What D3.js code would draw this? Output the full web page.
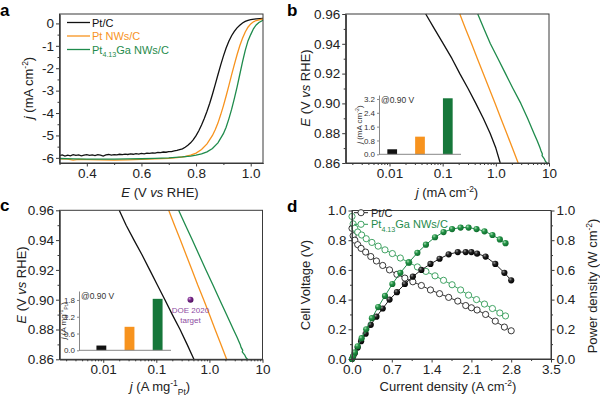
<!DOCTYPE html>
<html>
<head>
<meta charset="utf-8">
<script src="https://cdn.jsdelivr.net/npm/d3@7"></script>
<style>
body{margin:0;background:#fff}
svg{display:block;font-family:Arial,"Liberation Sans",sans-serif}
</style>
</head>
<body>
<svg id="fig" width="600" height="396"></svg>
<script>
// ---------- data ----------
// panel a: LSV curves [E (V vs RHE), j (mA cm-2)]
var lsvPtC = [[0.30,-5.90],[0.31,-5.87],[0.32,-5.92],[0.33,-5.88],[0.34,-5.91],[0.35,-5.86],[0.36,-5.89],[0.37,-5.87],
  [0.38,-5.91],[0.39,-5.88],[0.40,-5.86],[0.41,-5.89],[0.42,-5.87],[0.43,-5.90],[0.44,-5.86],[0.45,-5.88],[0.46,-5.92],
  [0.47,-5.87],[0.48,-5.85],[0.49,-5.88],[0.50,-5.86],[0.51,-5.87],[0.52,-5.84],[0.53,-5.86],[0.54,-5.83],[0.55,-5.85],
  [0.56,-5.82],[0.57,-5.84],[0.58,-5.81],[0.59,-5.83],[0.60,-5.80],[0.61,-5.82],[0.62,-5.79],[0.63,-5.80],[0.64,-5.78],
  [0.65,-5.79],[0.66,-5.76],[0.67,-5.77],[0.68,-5.74],[0.69,-5.75],[0.70,-5.72],[0.71,-5.72],[0.72,-5.69],[0.73,-5.67],
  [0.74,-5.63],[0.75,-5.60],[0.76,-5.53],[0.77,-5.44],[0.78,-5.33],[0.79,-5.19],[0.80,-5.01],[0.81,-4.79],[0.82,-4.53],
  [0.83,-4.24],[0.84,-3.92],[0.85,-3.56],[0.86,-3.16],[0.87,-2.73],[0.88,-2.29],[0.89,-1.86],[0.90,-1.46],[0.91,-1.10],
  [0.92,-0.80],[0.93,-0.55],[0.94,-0.36],[0.95,-0.20],[0.96,-0.08],[0.97,0.02],[0.98,0.09],[0.99,0.14],[1.00,0.17],
  [1.02,0.20],[1.045,0.22]];
var lsvPtNW = [[0.30,-6.04],[0.33,-6.06],[0.35,-6.10],[0.37,-6.07],[0.40,-6.08],[0.45,-6.09],[0.50,-6.10],[0.55,-6.09],
  [0.60,-6.07],[0.65,-6.05],[0.70,-6.02],[0.73,-5.99],[0.76,-5.94],[0.78,-5.88],[0.80,-5.79],[0.82,-5.63],[0.84,-5.38],
  [0.86,-5.00],[0.87,-4.75],[0.88,-4.45],[0.89,-4.08],[0.90,-3.68],[0.91,-3.24],[0.92,-2.78],[0.93,-2.30],[0.94,-1.84],
  [0.95,-1.40],[0.96,-1.00],[0.97,-0.66],[0.98,-0.38],[0.99,-0.17],[1.00,-0.02],[1.01,0.07],[1.02,0.13],[1.045,0.20]];
var lsvPtGa = [[0.30,-6.03],[0.35,-6.05],[0.40,-6.06],[0.45,-6.06],[0.50,-6.06],[0.55,-6.05],[0.60,-6.04],[0.65,-6.02],
  [0.70,-6.00],[0.75,-5.96],[0.78,-5.92],[0.80,-5.88],[0.82,-5.82],[0.84,-5.73],[0.86,-5.58],[0.88,-5.33],[0.90,-4.92],
  [0.91,-4.63],[0.92,-4.26],[0.93,-3.84],[0.94,-3.36],[0.95,-2.84],[0.96,-2.28],[0.97,-1.72],[0.98,-1.20],[0.99,-0.78],
  [1.00,-0.50],[1.01,-0.24],[1.02,-0.07],[1.03,0.04],[1.045,0.14]];

// panel b: specific activity curves [j (mA cm-2), E]
var saPtC = [[0.048,0.96],[0.07,0.95],[0.103,0.94],[0.15,0.93],[0.21,0.92],[0.30,0.91],[0.42,0.90],[0.58,0.89],[0.78,0.88],[1.0,0.87],[1.21,0.86]];
var saPtNW = [[0.21,0.96],[0.27,0.95],[0.35,0.94],[0.45,0.93],[0.58,0.92],[0.75,0.91],[0.97,0.90],[1.24,0.89],[1.6,0.88],[2.05,0.87],[2.63,0.86]];
var saPtGa = [[0.457,0.96],[0.60,0.95],[0.79,0.94],[1.10,0.93],[1.52,0.92],[2.1,0.91],[2.95,0.90],[3.95,0.89],[5.2,0.88],
  [6.0,0.875],[6.8,0.87],[7.1,0.868],[7.5,0.866],[7.4,0.865],[8.1,0.863],[8.6,0.861],[9.2,0.86]];

// panel c: mass activity curves [j (A mg-1 Pt), E]
var maPtC = [[0.020,0.96],[0.027,0.95],[0.038,0.94],[0.054,0.93],[0.075,0.92],[0.104,0.91],[0.145,0.90],[0.20,0.89],[0.28,0.88],[0.38,0.87],[0.51,0.86]];
var maPtNW = [[0.171,0.96],[0.22,0.95],[0.284,0.94],[0.365,0.93],[0.47,0.92],[0.60,0.91],[0.78,0.90],[1.0,0.89],[1.28,0.88],[1.65,0.87],[2.11,0.86]];
var maPtGa = [[0.263,0.96],[0.354,0.95],[0.477,0.94],[0.64,0.93],[0.86,0.92],[1.16,0.91],[1.56,0.90],[2.1,0.89],[2.83,0.88],
  [3.3,0.875],[3.8,0.87],[3.95,0.868],[4.25,0.866],[4.15,0.865],[4.6,0.863],[4.9,0.861],[5.22,0.86]];
var doeTarget = [0.44, 0.90];

// insets: activities at 0.90 V
var catLabels = ['Pt/C', 'Pt NWs/C', 'Pt4.13Ga NWs/C'];
var saBars = [0.29, 1.02, 3.24];   // mA cm-2
var maBars = [0.17, 0.84, 1.84];   // A mg-1 Pt

// panel d: single-cell polarization and power density curves
var fcPtC_I = [0, 0.02, 0.05, 0.1, 0.16, 0.24, 0.33, 0.43, 0.54, 0.66, 0.79, 0.93, 1.07, 1.22, 1.38, 1.54, 1.7, 1.86, 2.0, 2.1, 2.2, 2.35, 2.52, 2.68, 2.8];
var fcPtC_V = [0.88, 0.83, 0.80, 0.77, 0.745, 0.72, 0.69, 0.66, 0.63, 0.60, 0.57, 0.545, 0.52, 0.495, 0.465, 0.44, 0.415, 0.39, 0.36, 0.345, 0.33, 0.30, 0.255, 0.215, 0.19];
var fcPtC_P = [0, 0.017, 0.04, 0.077, 0.12, 0.17, 0.23, 0.285, 0.34, 0.40, 0.45, 0.505, 0.555, 0.60, 0.64, 0.675, 0.705, 0.72, 0.72, 0.72, 0.71, 0.69, 0.64, 0.58, 0.53];
var fcPtGa_I = [0, 0.02, 0.05, 0.1, 0.17, 0.25, 0.35, 0.46, 0.58, 0.71, 0.85, 1.0, 1.15, 1.3, 1.46, 1.61, 1.76, 1.91, 2.05, 2.19, 2.33, 2.47, 2.6, 2.7];
var fcPtGa_V = [0.96, 0.91, 0.88, 0.855, 0.835, 0.81, 0.785, 0.76, 0.735, 0.71, 0.68, 0.65, 0.62, 0.59, 0.56, 0.53, 0.50, 0.465, 0.43, 0.40, 0.37, 0.34, 0.31, 0.29];
var fcPtGa_P = [0, 0.018, 0.044, 0.086, 0.14, 0.20, 0.275, 0.35, 0.425, 0.505, 0.58, 0.65, 0.715, 0.77, 0.82, 0.855, 0.875, 0.885, 0.885, 0.875, 0.86, 0.835, 0.805, 0.78];

// tick labels
var aXTicks = [0.4, 0.6, 0.8, 1.0], aYTicks = [0, -1, -2, -3, -4, -5, -6];
var eTicks = [0.86, 0.88, 0.90, 0.92, 0.94, 0.96];
var logTicks = [0.01, 0.1, 1, 10], logTickLabels = ['0.01', '0.1', '1.0', '10'];
var dXTicks = [0, 0.7, 1.4, 2.1, 2.8, 3.5], dYTicks = [0, 0.2, 0.4, 0.6, 0.8, 1.0];
var saInsetTicks = [0, 0.8, 1.6, 2.4, 3.2], maInsetTicks = [0, 0.6, 1.2, 1.8];

// ---------- style ----------
var cBlack = '#111', cOrange = '#f7931e', cGreen = '#1f8b4c', cBarGreen = '#16773a', axisCol = '#3a3a3a', txtCol = '#222';
var tickFs = 13.5, titleFs = 13;

var svg = d3.select('#fig');
var defs = svg.append('defs');
function ballGrad(id, light, mid, dark) {
  var g = defs.append('radialGradient').attr('id', id).attr('cx', '35%').attr('cy', '32%').attr('r', '70%');
  g.append('stop').attr('offset', '0%').attr('stop-color', light);
  g.append('stop').attr('offset', '40%').attr('stop-color', mid);
  g.append('stop').attr('offset', '100%').attr('stop-color', dark);
}
ballGrad('ballBlack', '#9a9a9a', '#222222', '#000000');
ballGrad('ballGreen', '#a8dcb2', '#239447', '#0f6a2c');
ballGrad('ballPurple', '#d7a6e0', '#7a2a8c', '#4e0f5e');

function rich(parent, x, y, segs, fs, anchor, rot, col) {
  var t = parent.append('text').attr('font-size', fs).attr('text-anchor', anchor || 'middle').attr('fill', col || txtCol);
  if (rot) t.attr('transform', 'translate(' + x + ',' + y + ') rotate(-90)');
  else t.attr('x', x).attr('y', y);
  var shift = 0;
  segs.forEach(function(s) {
    var sp = t.append('tspan').text(s[0]);
    var target = s[1] === 'sup' ? -fs * 0.4 : (s[1] === 'sub' ? fs * 0.3 : 0);
    if (target - shift !== 0) sp.attr('dy', target - shift);
    shift = target;
    if (s[1] === 'sup' || s[1] === 'sub') sp.attr('font-size', fs * 0.65);
    if (s[1] === 'i') sp.attr('font-style', 'italic');
  });
  return t;
}

function styleAxis(g, fs, col) {
  g.select('.domain').attr('stroke', col || axisCol).attr('stroke-width', 1);
  g.selectAll('.tick line').attr('stroke', col || axisCol);
  g.selectAll('.tick text').attr('font-size', fs).attr('fill', txtCol).attr('font-family', null);
}

function frame(x, y) {
  svg.append('rect').attr('x', x.range()[0]).attr('y', y.range()[1])
    .attr('width', x.range()[1] - x.range()[0]).attr('height', y.range()[0] - y.range()[1])
    .attr('fill', 'none').attr('stroke', axisCol).attr('stroke-width', 1);
}

function bottomAxis(x, y0, ticks, fmt, minor) {
  var g = svg.append('g').attr('transform', 'translate(0,' + y0 + ')')
    .call(d3.axisBottom(x).tickValues(ticks).tickFormat(fmt).tickSizeInner(3.5).tickSizeOuter(0).tickPadding(2));
  styleAxis(g, tickFs);
  if (minor) {
    var m = svg.append('g').attr('transform', 'translate(0,' + y0 + ')')
      .call(d3.axisBottom(x).tickValues(minor).tickFormat('').tickSizeInner(2).tickSizeOuter(0));
    styleAxis(m, tickFs);
  }
}
function leftAxis(y, x0, ticks, fmt, minor) {
  var g = svg.append('g').attr('transform', 'translate(' + x0 + ',0)')
    .call(d3.axisLeft(y).tickValues(ticks).tickFormat(fmt).tickSizeInner(3.5).tickSizeOuter(0).tickPadding(2));
  styleAxis(g, tickFs);
  if (minor) {
    var m = svg.append('g').attr('transform', 'translate(' + x0 + ',0)')
      .call(d3.axisLeft(y).tickValues(minor).tickFormat('').tickSizeInner(2).tickSizeOuter(0));
    styleAxis(m, tickFs);
  }
}
function panelLabel(x, y, s) {
  svg.append('text').attr('x', x).attr('y', y).attr('font-size', 17).attr('font-weight', 'bold').attr('fill', '#000').text(s);
}

// ---------- panel a ----------
var xA = d3.scaleLinear().domain([0.3, 1.045]).range([59.5, 263]);
var yA = d3.scaleLinear().domain([-6.23, 0.42]).range([163, 14]);
var lineA = d3.line().x(function(d) { return xA(d[0]); }).y(function(d) { return yA(d[1]); });
[[lsvPtC, cBlack], [lsvPtNW, cOrange], [lsvPtGa, cGreen]].forEach(function(s) {
  svg.append('path').datum(s[0]).attr('d', lineA).attr('fill', 'none').attr('stroke', s[1]).attr('stroke-width', 1.3);
});
frame(xA, yA);
bottomAxis(xA, 163, aXTicks, d3.format('.1f'), [0.3, 0.5, 0.7, 0.9]);
leftAxis(yA, 59.5, aYTicks, function(d) { return String(d); }, [-5.5, -4.5, -3.5, -2.5, -1.5, -0.5]);
rich(svg, 160, 197, [['E', 'i'], [' (V '], ['vs', 'i'], [' RHE)']], titleFs);
rich(svg, 33, 88, [['j', 'i'], [' (mA cm'], ['-2', 'sup'], [')']], titleFs, 'middle', true);
var legA = [['Pt/C', cBlack], ['Pt NWs/C', cOrange], ['Pt4.13Ga NWs/C', cGreen]];
legA.forEach(function(l, i) {
  var yy = 22.5 + i * 13.5;
  svg.append('line').attr('x1', 67).attr('x2', 90).attr('y1', yy).attr('y2', yy).attr('stroke', l[1]).attr('stroke-width', 1.3);
  var segs = i === 2 ? [['Pt'], ['4.13', 'sub'], ['Ga NWs/C']] : [[l[0]]];
  rich(svg, 92, yy + 4, segs, 11, 'start', false, l[1]);
});
panelLabel(0, 15.5, 'a');

// ---------- log-axis helpers (b, c) ----------
var logMinor = [];
[0.001, 0.01, 0.1, 1].forEach(function(dec) {
  for (var k = 2; k <= 9; k++) { var v = k * dec; if (v >= 0.0015 && v <= 10) logMinor.push(v); }
});
var eMinor = [0.87, 0.89, 0.91, 0.93, 0.95];

function tafelPanel(x, y, series) {
  var line = d3.line().x(function(d) { return x(d[0]); }).y(function(d) { return y(d[1]); });
  series.forEach(function(s) {
    svg.append('path').datum(s[0]).attr('d', line).attr('fill', 'none').attr('stroke', s[1]).attr('stroke-width', 1.3)
      .attr('stroke-linejoin', 'round');
  });
  frame(x, y);
  bottomAxis(x, y.range()[0], logTicks, function(d, i) { return logTickLabels[i]; }, logMinor);
  leftAxis(y, x.range()[0], eTicks, d3.format('.2f'), eMinor);
}

function insetBars(x0, x1, yI, vals, ticks, titleSegs, titleX, barRange) {
  var b0 = yI.range()[0];
  var band = d3.scaleBand().domain(catLabels).range(barRange).paddingInner(0.65).paddingOuter(0.3);
  var cols = [cBlack, cOrange, cBarGreen];
  svg.selectAll(null).data(vals).enter().append('rect')
    .attr('x', function(d, i) { return band(catLabels[i]); })
    .attr('width', band.bandwidth())
    .attr('y', function(d) { return yI(d); })
    .attr('height', function(d) { return b0 - yI(d); })
    .attr('fill', function(d, i) { return cols[i]; });
  svg.append('line').attr('x1', x0).attr('x2', x1).attr('y1', b0).attr('y2', b0).attr('stroke', '#888').attr('stroke-width', 1);
  var g = svg.append('g').attr('transform', 'translate(' + x0 + ',0)')
    .call(d3.axisLeft(yI).tickValues(ticks).tickFormat(d3.format('.1f')).tickSizeInner(2).tickSizeOuter(0).tickPadding(2));
  styleAxis(g, 8, '#888');
  g.selectAll('.tick text').attr('fill', '#333');
  var mid = (yI.range()[0] + yI.range()[1]) / 2;
  rich(svg, titleX, mid, titleSegs, 8, 'middle', true, '#333');
  svg.append('text').attr('x', x0 + 2).attr('y', yI.range()[1] + 8).attr('font-size', 8.5).attr('fill', '#333').text('@0.90 V');
}

// ---------- panel b ----------
var xB = d3.scaleLog().domain([0.0015, 10]).range([345.7, 549]);
var yB = d3.scaleLinear().domain([0.86, 0.96]).range([163, 14]);
tafelPanel(xB, yB, [[saPtC, cBlack], [saPtNW, cOrange], [saPtGa, cGreen]]);
var yBi = d3.scaleLinear().domain([0, 3.43]).range([154.3, 95]);
insetBars(379, 461, yBi, saBars, saInsetTicks, [['j', 'i'], [' (mA cm'], ['-2', 'sup'], [')']], 362, [379, 461]);
rich(svg, 447, 197, [['j', 'i'], [' (mA cm'], ['-2', 'sup'], [')']], titleFs);
rich(svg, 310, 88, [['E', 'i'], [' (V '], ['vs', 'i'], [' RHE)']], titleFs, 'middle', true);
panelLabel(287, 15.5, 'b');

// ---------- panel c ----------
var xC = d3.scaleLog().domain([0.0015, 10]).range([59.5, 262.5]);
var yC = d3.scaleLinear().domain([0.86, 0.96]).range([359.3, 210.3]);
tafelPanel(xC, yC, [[maPtC, cBlack], [maPtNW, cOrange], [maPtGa, cGreen]]);
var yCi = d3.scaleLinear().domain([0, 2.12]).range([350.3, 291]);
insetBars(79, 171, yCi, maBars, maInsetTicks, [['j', 'i'], [' (A mg'], ['-1', 'sup'], ['Pt', 'sub'], [')']], 66, [88, 171]);
svg.append('circle').attr('cx', xC(doeTarget[0])).attr('cy', yC(doeTarget[1])).attr('r', 3).attr('fill', 'url(#ballPurple)');
svg.append('text').attr('x', xC(doeTarget[0])).attr('y', yC(doeTarget[1]) + 13).attr('font-size', 8).attr('text-anchor', 'middle').attr('fill', '#8d4b9f').text('DOE 2020');
svg.append('text').attr('x', xC(doeTarget[0])).attr('y', yC(doeTarget[1]) + 23).attr('font-size', 8).attr('text-anchor', 'middle').attr('fill', '#8d4b9f').text('target');
rich(svg, 160, 391, [['j', 'i'], [' (A mg'], ['-1', 'sup'], ['Pt', 'sub'], [')']], titleFs);
rich(svg, 26, 285, [['E', 'i'], [' (V '], ['vs', 'i'], [' RHE)']], titleFs, 'middle', true);
panelLabel(0, 211, 'c');

// ---------- panel d ----------
var xD = d3.scaleLinear().domain([0, 3.5]).range([352, 551]);
var yD = d3.scaleLinear().domain([0, 1]).range([359, 210.5]);
function fcSeries(I, vals, col, lineCol, filled) {
  var pts = I.map(function(d, i) { return [d, vals[i]]; });
  svg.append('path').datum(pts)
    .attr('d', d3.line().x(function(d) { return xD(d[0]); }).y(function(d) { return yD(d[1]); }))
    .attr('fill', 'none').attr('stroke', lineCol).attr('stroke-width', 1);
  svg.selectAll(null).data(pts).enter().append('circle')
    .attr('cx', function(d) { return xD(d[0]); }).attr('cy', function(d) { return yD(d[1]); })
    .attr('r', 3.1)
    .attr('fill', filled ? filled : '#fff')
    .attr('stroke', filled ? 'none' : col).attr('stroke-width', 0.9);
}
fcSeries(fcPtC_I, fcPtC_V, '#222', '#333', null);
fcSeries(fcPtGa_I, fcPtGa_V, '#2f9a55', '#3aa060', null);
fcSeries(fcPtC_I, fcPtC_P, '#000', '#222', 'url(#ballBlack)');
fcSeries(fcPtGa_I, fcPtGa_P, cGreen, '#1f8b4c', 'url(#ballGreen)');
frame(xD, yD);
bottomAxis(xD, 359, dXTicks, d3.format('.1f'), [0.35, 1.05, 1.75, 2.45, 3.15]);
leftAxis(yD, 352, dYTicks, d3.format('.1f'), [0.1, 0.3, 0.5, 0.7, 0.9]);
var gr = svg.append('g').attr('transform', 'translate(551,0)')
  .call(d3.axisRight(yD).tickValues(dYTicks).tickFormat(d3.format('.1f')).tickSizeInner(3.5).tickSizeOuter(0).tickPadding(2));
styleAxis(gr, tickFs);
var grm = svg.append('g').attr('transform', 'translate(551,0)')
  .call(d3.axisRight(yD).tickValues([0.1, 0.3, 0.5, 0.7, 0.9]).tickFormat('').tickSizeInner(2).tickSizeOuter(0));
styleAxis(grm, tickFs);
// legend
[['Pt/C', '#222', 212.7], ['Pt4.13Ga NWs/C', '#2f9a55', 224.3]].forEach(function(l, i) {
  svg.append('line').attr('x1', 354).attr('x2', 368).attr('y1', l[2]).attr('y2', l[2]).attr('stroke', l[1]).attr('stroke-width', 1);
  svg.append('circle').attr('cx', 361).attr('cy', l[2]).attr('r', 3.1).attr('fill', '#fff').attr('stroke', l[1]).attr('stroke-width', 0.9);
  var segs = i === 1 ? [['Pt'], ['4.13', 'sub'], ['Ga NWs/C']] : [[l[0]]];
  rich(svg, 371, l[2] + 4, segs, 11, 'start', false, i === 1 ? cGreen : '#222');
});
rich(svg, 448, 391, [['Current density (A cm'], ['-2', 'sup'], [')']], titleFs);
rich(svg, 310, 285, [['Cell Voltage (V)']], titleFs, 'middle', true);
rich(svg, 597, 286, [['Power density (W cm'], ['-2', 'sup'], [')']], titleFs, 'middle', true);
panelLabel(287, 212, 'd');
</script>
</body>
</html>
